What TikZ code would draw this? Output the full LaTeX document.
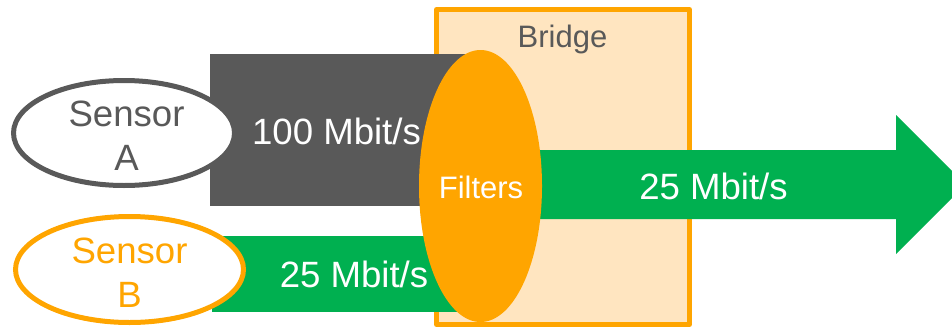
\documentclass[tikz,border=0pt]{standalone}
\usepackage{fontspec}
\setmainfont{Liberation Sans}
\usetikzlibrary{shapes.geometric}
\definecolor{dgray}{HTML}{595959}
\definecolor{lgreen}{HTML}{00B050}
\definecolor{orng}{HTML}{FFA500}
\definecolor{peach}{HTML}{FFE5C0}
\tikzset{
  big/.style={font=\fontsize{36.6}{44}\selectfont},
  small/.style={font=\fontsize{31}{37}\selectfont},
  sensor/.style={ellipse, draw, line width=5pt, fill=white, inner sep=0pt},
  sensortext/.style={inner sep=0pt, align=center, big},
  lbl/.style={anchor=base, inner sep=0pt, text=white, big},
}
\begin{document}
\begin{tikzpicture}[x=1pt,y=-1pt]
\path[use as bounding box] (0,0) rectangle (952,327);
\clip (0,0) rectangle (952,327);
% bridge box
\draw[draw=orng, fill=peach, line width=5pt, line join=round] (436.5,9.5) rectangle (689.5,324.5);
\node[lbl, small, text=dgray] (bridge) at (562.5,47) {Bridge};
% input streams
\fill[dgray] (210,54) rectangle (480,206);
\fill[lgreen] (212,236) rectangle (480,312);
% output arrow
\fill[lgreen] (480,150) -- (896,150) -- (896,115) -- (965.5,184.5) -- (896,254) -- (896,219) -- (480,219) -- cycle;
% sensors
\node[sensor, draw=dgray, minimum width=221pt, minimum height=105pt] (sa) at (124,133) {};
\node[sensortext, text=dgray] (satext) at (126.5,136) {Sensor\\A};
\node[sensor, draw=orng, minimum width=228pt, minimum height=106pt] (sb) at (129.5,269.5) {};
\node[sensortext, text=orng] (sbtext) at (129.5,272.5) {Sensor\\B};
% filters
\node[ellipse, fill=orng, inner sep=0pt, minimum width=123pt, minimum height=272pt] (filt) at (480.5,186) {};
\node[lbl, small] (filtlbl) at (481,198) {Filters};
% rate labels
\node[lbl] (ra) at (336.5,144) {100 Mbit/s};
\node[lbl] (rb) at (354,287) {25 Mbit/s};
\node[lbl] (rout) at (713.5,199) {25 Mbit/s};
\end{tikzpicture}
\end{document}
